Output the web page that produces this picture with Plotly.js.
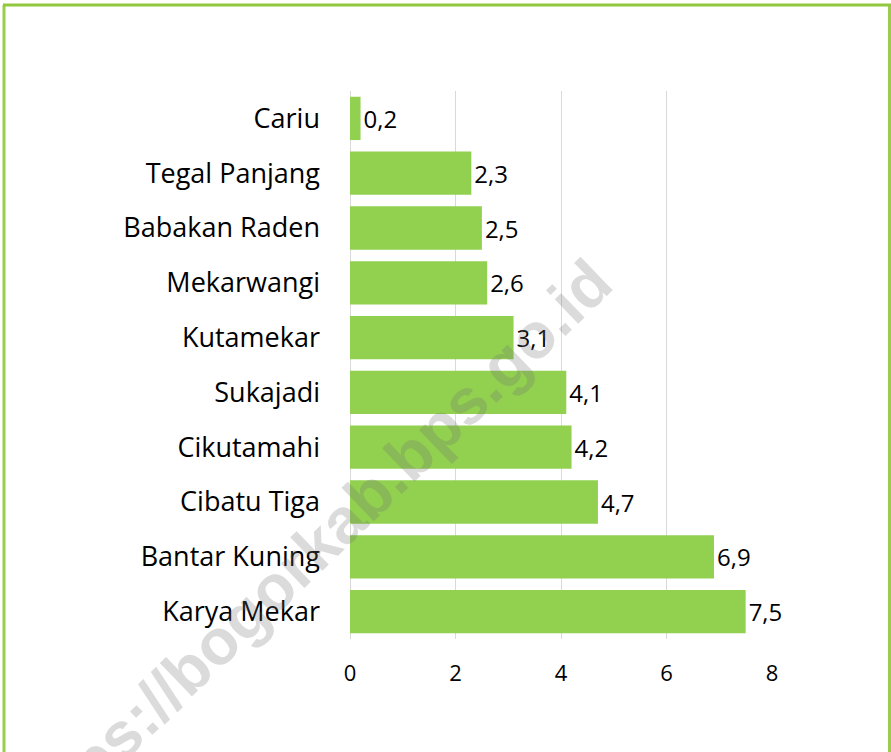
<!DOCTYPE html>
<html>
<head>
<meta charset="utf-8">
<script src="https://cdn.plot.ly/plotly-3.0.1.min.js"></script>
<style>
html,body{margin:0;padding:0;background:#fff;}
#chart{width:891px;height:752px;}
</style>
</head>
<body>
<div id="chart"></div>
<script>
// Data (top to bottom as shown)
const villages = ["Cariu","Tegal Panjang","Babakan Raden","Mekarwangi","Kutamekar","Sukajadi","Cikutamahi","Cibatu Tiga","Bantar Kuning","Karya Mekar"];
const values = [0.2, 2.3, 2.5, 2.6, 3.1, 4.1, 4.2, 4.7, 6.9, 7.5];
const xTicks = [0, 2, 4, 6, 8];
const watermark = "https://bogorkab.bps.go.id";

const W = 891, H = 752;
const L = 350, R = 119, T = 91, B = 113;
const pw = W - L - R, ph = H - T - B;
const px = v => (v - L) / pw;
const py = v => (H - B - v) / ph;

const frameColor = "#9ACD4E";

const trace = {
  type: "bar",
  orientation: "h",
  y: villages,
  x: values,
  marker: {color: "#92D050"},
  text: values.map(v => v.toFixed(1).replace(".", ",")),
  textposition: "outside",
  cliponaxis: false,
  textfont: {family: "Open Sans", size: 24, color: "#000"},
  hoverinfo: "none"
};

const layout = {
  width: W, height: H,
  margin: {l: L, r: R, t: T, b: B, pad: 0},
  paper_bgcolor: "#fff",
  plot_bgcolor: "#fff",
  showlegend: false,
  bargap: 0.21,
  separators: ",.",
  font: {family: "Open Sans", color: "#000"},
  xaxis: {
    range: [0, 8],
    tickvals: xTicks,
    ticktext: xTicks.map(String),
    showgrid: true,
    gridcolor: "#D9D9D9",
    gridwidth: 1,
    zeroline: true,
    zerolinecolor: "#D9D9D9",
    showline: false,
    ticks: "",
    ticklabelstandoff: 19,
    tickfont: {family: "Open Sans", size: 22, color: "#000"},
    fixedrange: true
  },
  yaxis: {
    categoryorder: "array",
    categoryarray: villages.slice().reverse(),
    autorange: true,
    showgrid: false,
    zeroline: false,
    showline: false,
    ticks: "",
    ticklabelstandoff: 29,
    tickfont: {family: "Open Sans", size: 27, color: "#000"},
    fixedrange: true
  },
  shapes: [
    {type: "line", xref: "paper", yref: "paper", x0: px(4), x1: px(4), y0: py(5), y1: py(760), line: {color: frameColor, width: 3}, layer: "above"},
    {type: "line", xref: "paper", yref: "paper", x0: px(889.5), x1: px(889.5), y0: py(5), y1: py(760), line: {color: frameColor, width: 3}, layer: "above"},
    {type: "line", xref: "paper", yref: "paper", x0: px(3), x1: px(891), y0: py(5), y1: py(5), line: {color: "#92C83E", width: 3}, layer: "above"}
  ],
  annotations: [
    {
      text: watermark,
      xref: "paper", yref: "paper",
      x: px(310), y: py(552),
      xanchor: "center", yanchor: "middle",
      showarrow: false,
      textangle: -44,
      font: {family: "Liberation Sans", size: 64, color: "rgba(110,110,110,0.25)", weight: "bold"}
    }
  ]
};

Plotly.newPlot("chart", [trace], layout, {displayModeBar: false, staticPlot: true});
</script>
</body>
</html>
